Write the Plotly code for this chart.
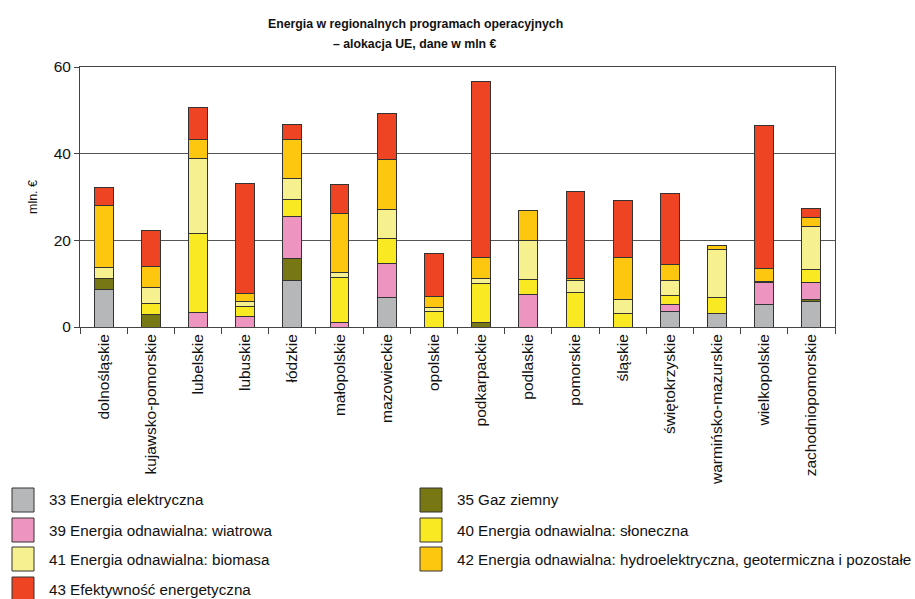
import plotly.graph_objects as go

regions = ["dolnośląskie", "kujawsko-pomorskie", "lubelskie", "lubuskie", "łódzkie",
           "małopolskie", "mazowieckie", "opolskie", "podkarpackie", "podlaskie",
           "pomorskie", "śląskie", "świętokrzyskie", "warmińsko-mazurskie",
           "wielkopolskie", "zachodniopomorskie"]

s33_elektryczna = [8.7, 0, 0, 0, 10.7, 0, 6.7, 0, 0, 0, 0, 0, 3.5, 3.1, 5.2, 5.9]
s35_gaz = [2.5, 2.9, 0, 0, 5.2, 0, 0, 0, 1.1, 0, 0, 0, 0, 0, 0, 0.4]
s39_wiatrowa = [0, 0, 3.4, 2.5, 9.7, 1.1, 8.0, 0, 0, 7.4, 0, 0, 1.8, 0, 5.1, 3.9]
s40_sloneczna = [0, 2.5, 18.2, 2.2, 3.9, 10.3, 5.7, 3.5, 8.9, 3.5, 7.9, 3.1, 1.9, 3.6, 0.2, 3.1]
s41_biomasa = [2.6, 3.7, 17.4, 1.3, 4.7, 1.2, 6.7, 1.0, 1.2, 9.1, 2.8, 3.2, 3.6, 11.3, 0, 9.9]
s42_hydro = [14.3, 4.8, 4.2, 1.8, 9.1, 13.7, 11.5, 2.5, 4.8, 6.8, 0.5, 9.7, 3.6, 0.9, 3.0, 2.1]
s43_efektywnosc = [4.0, 8.4, 7.4, 25.4, 3.4, 6.5, 10.7, 10.0, 40.7, 0, 20.0, 13.1, 16.4, 0, 32.9, 2.1]

series_names = ["33 Energia elektryczna", "35 Gaz ziemny",
                "39 Energia odnawialna: wiatrowa", "40 Energia odnawialna: słoneczna",
                "41 Energia odnawialna: biomasa",
                "42 Energia odnawialna: hydroelektryczna, geotermiczna i pozostałe",
                "43 Efektywność energetyczna"]
series_values = [s33_elektryczna, s35_gaz, s39_wiatrowa, s40_sloneczna,
                 s41_biomasa, s42_hydro, s43_efektywnosc]
series_colors = ["#b5b7b8", "#777814", "#ee94c0", "#f8e922", "#f6f08f", "#fdc710", "#ef4423"]

title_lines = ["Energia w regionalnych programach operacyjnych", "– alokacja UE, dane w mln €"]
y_ticks = [0, 20, 40, 60]

FONT = "Liberation Sans, Arial, sans-serif"

fig = go.Figure()
for name, vals, col in zip(series_names, series_values, series_colors):
    fig.add_trace(go.Bar(x=regions, y=vals, name=name,
                         marker=dict(color=col, line=dict(color="#333333", width=1)),
                         showlegend=False))

W, H = 915, 599
L, R, T, B = 80, 80, 67, 272
pw, ph = W - L - R, H - T - B

def px2x(px):
    return (px - L) / pw

def px2y(py):
    return (H - B - py) / ph

annotations = []
shapes = []
# Title (two lines placed separately)
for line, ty in zip(title_lines, [24, 44]):
    annotations.append(dict(text="<b>" + line + "</b>",
                            x=px2x(415), y=px2y(ty), xref="paper", yref="paper",
                            xanchor="center", yanchor="middle",
                            showarrow=False, font=dict(family=FONT, size=12.3, color="#111")))
# Manual legend (two columns, row-major)
col_x = [12, 420]
row_y = [500, 530, 559, 589]
for i, (name, col) in enumerate(zip(series_names, series_colors)):
    c = i % 2
    r = i // 2
    bx = col_x[c]
    by = row_y[r]
    shapes.append(dict(type="rect", xref="paper", yref="paper",
                       x0=px2x(bx), x1=px2x(bx + 22), y0=px2y(by - 12), y1=px2y(by + 12),
                       fillcolor=col, line=dict(color="#333333", width=1)))
    annotations.append(dict(text=name, x=px2x(bx + 35), y=px2y(by), xref="paper", yref="paper",
                            xanchor="left", yanchor="middle", showarrow=False,
                            font=dict(family=FONT, size=15.2, color="#111")))

fig.update_layout(
    width=W, height=H,
    margin=dict(l=L, r=R, t=T, b=B),
    barmode="stack", bargap=0.6,
    plot_bgcolor="white", paper_bgcolor="white",
    font=dict(family=FONT, color="#111"),
    annotations=annotations, shapes=shapes,
    showlegend=False,
    xaxis=dict(type="category", tickangle=-90, tickfont=dict(size=15.5, family=FONT),
               showline=True, linecolor="#444", linewidth=1, mirror=True,
               ticks="outside", tickson="boundaries", ticklen=6, tickcolor="#444",
               showgrid=False),
    yaxis=dict(range=[0, 60], tickvals=y_ticks, tickfont=dict(size=15.5, family=FONT),
               showline=True, linecolor="#444", linewidth=1, mirror=True,
               ticks="outside", ticklen=5, tickcolor="#444",
               showgrid=True, gridcolor="#555", gridwidth=1,
               title=dict(text="mln. €", font=dict(size=12.5, family=FONT), standoff=13)),
)

fig.write_html("out.html", config={"displayModeBar": False},
               post_script="document.body.style.margin='0';")
